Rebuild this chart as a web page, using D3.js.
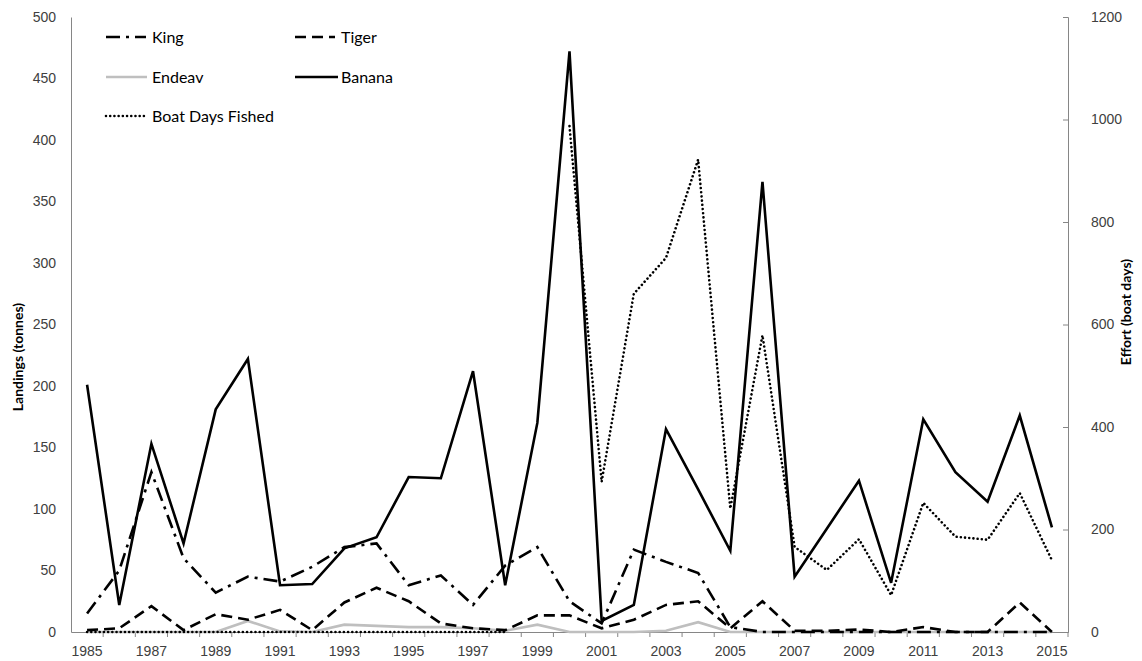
<!DOCTYPE html>
<html><head><meta charset="utf-8">
<script src="https://cdn.jsdelivr.net/npm/d3@7"></script>
<style>body{margin:0;background:#fff}svg{display:block;font-family:Lato,"Open Sans",sans-serif}</style>
</head><body><svg id="c" width="1142" height="661"></svg>
<script>
const years = d3.range(1985, 2016);
const king   = [15,50,130,60,32,45,41,53,69,72,38,46,22,54,69,25,7,67,57,48,4,0,0,0,0,0,0,0,0,0,0];
const tiger  = [1.5,3,21,1.5,14.5,10,18,1.5,24,36,25,7,3,1.5,13.5,13.5,3,10,22,25,3,25,1,1,2,0,4,0,0,24,0];
const endeav = [0,0,0,0,0,9,0.5,0,6,5,4,4,3,1,6,0,0,0,1,8,0,0,0,0,0,0,0,0,0,0,0];
const banana = [201,22,153,72,181,222,38,39,68,77,126,125,212,38,170,472,9,22,165,116,66,366,45,84,123,40,173,130,106,176,85];
const boatDays = [0,0,0,0,0,0,0,0,0,0,0,0,0,0,null,987,293,660,730,922,241,579,166,121,181,72,252,186,180,271,140];
const leftTicks = d3.range(0, 501, 50);
const rightTicks = d3.range(0, 1201, 200);
const xLabels = years.filter((y,i)=>i%2===0);

const svg = d3.select("#c");
const L = 71, R = 1068, T = 17, B = 632;
const x = d3.scaleBand().domain(years).range([L, R]);
const yL = d3.scaleLinear().domain([0, 500]).range([B, T]);
const yR = d3.scaleLinear().domain([0, 1200]).range([B, T]);
const cx = d => x(d) + x.bandwidth()/2;

const ga = svg.append("g").attr("transform", `translate(${L},0)`)
  .call(d3.axisLeft(yL).tickValues(leftTicks).tickSize(0).tickPadding(15));
ga.select(".domain").attr("stroke", "#868686");
ga.selectAll("text").attr("font-size", 14).attr("fill", "#404040");

const gr = svg.append("g").attr("transform", `translate(${R},0)`)
  .call(d3.axisRight(yR).tickValues(rightTicks).tickFormat(d3.format("d")).tickSize(-5).tickPadding(23));
gr.select(".domain").attr("stroke", "#868686");
gr.selectAll(".tick line").attr("stroke", "#868686");
gr.selectAll("text").attr("font-size", 14).attr("fill", "#404040");

const gx = svg.append("g").attr("transform", `translate(0,${B})`)
  .call(d3.axisBottom(x).tickValues(xLabels).tickSize(0).tickPadding(14));
gx.select(".domain").attr("stroke", "#868686");
gx.selectAll("text").attr("font-size", 14).attr("fill", "#404040");
const bounds = years.map(y => x(y)).concat([R]);
svg.append("g").selectAll("line").data(bounds.slice(1)).join("line")
  .attr("x1", d=>d).attr("x2", d=>d).attr("y1", B).attr("y2", B+5)
  .attr("stroke", "#868686");

svg.append("text").attr("transform", `translate(18,357) rotate(-90)`)
  .attr("text-anchor","middle").attr("dy","0.35em").attr("font-size",14).attr("font-weight","bold").attr("fill","#000")
  .text("Landings (tonnes)");
svg.append("text").attr("transform", `translate(1126,312) rotate(-90)`)
  .attr("text-anchor","middle").attr("dy","0.35em").attr("font-size",14).attr("font-weight","bold").attr("fill","#000")
  .text("Effort (boat days)");

const styles = {
  king:   {stroke:"#000", dash:"14 6 3 6", w:2.6, cap:"butt"},
  tiger:  {stroke:"#000", dash:"11 6", w:2.6, cap:"butt"},
  endeav: {stroke:"#bfbfbf", dash:null, w:2.6, cap:"butt"},
  banana: {stroke:"#000", dash:null, w:2.6, cap:"butt"},
  boat:   {stroke:"#000", dash:"0.01 4.2", w:2.6, cap:"round"}
};
const lineL = d3.line().defined(d=>d!=null).x((d,i)=>cx(years[i])).y(d=>yL(d));
const lineR = d3.line().defined(d=>d!=null).x((d,i)=>cx(years[i])).y(d=>yR(d));
function draw(data, gen, s){
  svg.append("path").attr("d", gen(data)).attr("fill","none")
    .attr("stroke", s.stroke).attr("stroke-width", s.w)
    .attr("stroke-dasharray", s.dash).attr("stroke-linecap", s.cap)
    .attr("stroke-linejoin","miter");
}
draw(endeav, lineL, styles.endeav);
draw(tiger, lineL, styles.tiger);
draw(king, lineL, styles.king);
draw(banana, lineL, styles.banana);
draw(boatDays, lineR, styles.boat);

const legend = [
  {name:"King", s:styles.king, x:106, y:37, len:40},
  {name:"Tiger", s:styles.tiger, x:295, y:37, len:40},
  {name:"Endeav", s:styles.endeav, x:106, y:77, len:41},
  {name:"Banana", s:styles.banana, x:295, y:77, len:43},
  {name:"Boat Days Fished", s:styles.boat, x:106, y:116, len:40}
];
const lg = svg.append("g");
legend.forEach(e=>{
  lg.append("line").attr("x1",e.x).attr("x2",e.x+e.len).attr("y1",e.y).attr("y2",e.y)
    .attr("stroke",e.s.stroke).attr("stroke-width",e.s.w).attr("stroke-dasharray",e.s.dash)
    .attr("stroke-linecap",e.s.cap);
  lg.append("text").attr("x", e.x+46).attr("y", e.y).attr("dy","0.35em")
    .attr("font-size",16).attr("fill","#000").text(e.name);
});
</script></body></html>
